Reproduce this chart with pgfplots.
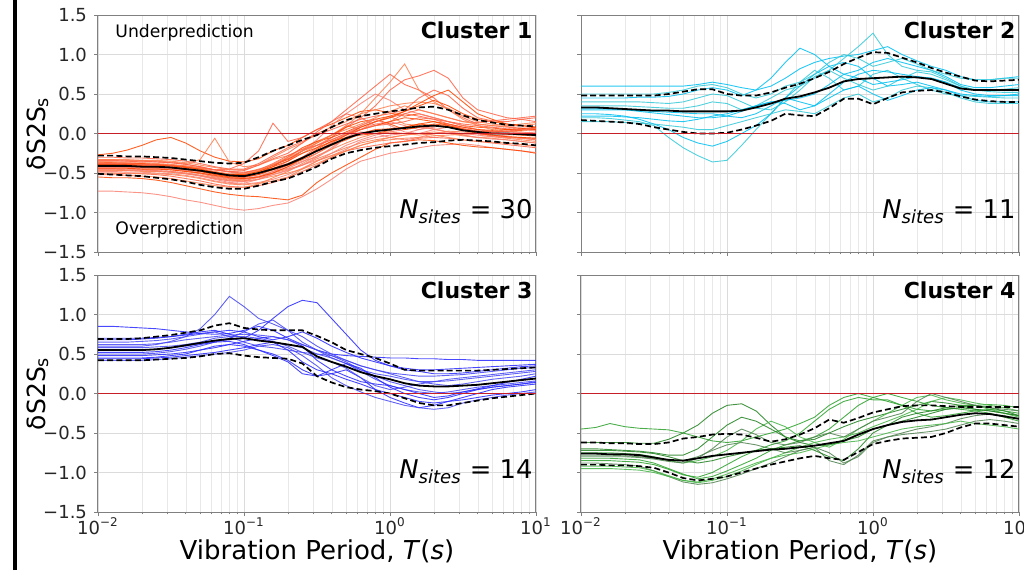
\documentclass[border=0pt]{standalone}
\usepackage{fontspec}
\setmainfont{DejaVu Sans}
\usepackage{pgfplots}
\usepackage{pgfplotstable}
\pgfplotsset{compat=1.18}

\definecolor{c1a}{RGB}{255,69,0}
\definecolor{c1b}{RGB}{255,99,71}
\definecolor{c1c}{RGB}{255,127,80}
\definecolor{c1d}{RGB}{250,128,114}
\definecolor{c2a}{RGB}{0,191,240}
\definecolor{c2b}{RGB}{50,200,215}
\definecolor{c3a}{RGB}{40,40,255}
\definecolor{c3b}{RGB}{70,70,245}
\definecolor{c4a}{RGB}{44,160,44}
\definecolor{c4b}{RGB}{34,130,34}
\definecolor{c4c}{RGB}{70,180,70}
\definecolor{c4d}{RGB}{80,130,80}
\definecolor{zeroRed}{RGB}{200,30,40}

% ---------------- Cluster 1 ----------------
\pgfplotstableread{
name 0.01 0.0126 0.0158 0.02 0.0251 0.0316 0.0398 0.0501 0.0631 0.0794 0.1 0.126 0.158 0.2 0.251 0.316 0.398 0.501 0.631 0.794 1 1.26 1.58 2 2.51 3.16 3.98 5.01 6.31 7.94 10
m -0.41 -0.41 -0.41 -0.42 -0.42 -0.43 -0.45 -0.47 -0.50 -0.53 -0.54 -0.50 -0.45 -0.39 -0.31 -0.22 -0.14 -0.06 0.00 0.03 0.05 0.07 0.09 0.10 0.08 0.04 0.02 0.00 0.00 -0.01 -0.02
lo -0.51 -0.52 -0.53 -0.54 -0.56 -0.58 -0.61 -0.65 -0.68 -0.70 -0.70 -0.66 -0.61 -0.57 -0.50 -0.42 -0.32 -0.25 -0.21 -0.18 -0.16 -0.14 -0.12 -0.11 -0.09 -0.08 -0.09 -0.10 -0.12 -0.13 -0.15
hi -0.28 -0.28 -0.29 -0.29 -0.30 -0.31 -0.33 -0.35 -0.37 -0.38 -0.37 -0.30 -0.22 -0.15 -0.08 -0.02 0.08 0.17 0.22 0.25 0.28 0.30 0.33 0.34 0.30 0.23 0.17 0.14 0.11 0.10 0.09
a1 -0.27 -0.25 -0.21 -0.15 -0.08 -0.05 -0.12 -0.22 -0.30 -0.35 -0.36 -0.32 -0.22 -0.15 -0.05 0.05 0.12 0.20 0.28 0.30 0.26 0.22 0.25 0.20 0.15 0.10 0.08 0.07 0.05 0.06 0.05
a2 -0.33 -0.33 -0.34 -0.34 -0.35 -0.36 -0.38 -0.33 -0.06 -0.36 -0.42 -0.40 -0.33 -0.28 -0.20 -0.10 -0.02 0.10 0.05 0.15 0.22 0.12 0.10 0.05 0.02 -0.02 -0.05 -0.04 -0.06 -0.08 -0.10
a3 -0.36 -0.37 -0.37 -0.38 -0.39 -0.40 -0.42 -0.44 -0.46 -0.45 -0.38 -0.22 0.13 -0.10 -0.05 0.05 0.15 0.30 0.45 0.60 0.75 0.62 0.55 0.45 0.30 0.20 0.12 0.10 0.08 0.07 0.06
a4 -0.73 -0.73 -0.74 -0.75 -0.77 -0.80 -0.84 -0.87 -0.91 -0.95 -0.97 -0.95 -0.91 -0.88 -0.80 -0.70 -0.58 -0.45 -0.35 -0.30 -0.25 -0.22 -0.18 -0.15 -0.14 -0.13 -0.15 -0.18 -0.20 -0.22 -0.24
a5 -0.55 -0.56 -0.56 -0.57 -0.59 -0.62 -0.66 -0.70 -0.74 -0.77 -0.79 -0.80 -0.82 -0.84 -0.78 -0.62 -0.50 -0.40 -0.30 -0.20 -0.12 -0.10 -0.08 -0.09 -0.12 -0.15 -0.17 -0.18 -0.20 -0.22 -0.25
a6 -0.38 -0.38 -0.39 -0.39 -0.40 -0.41 -0.43 -0.46 -0.50 -0.52 -0.50 -0.45 -0.40 -0.32 -0.25 -0.15 -0.05 0.10 0.25 0.45 0.65 0.88 0.55 0.40 0.30 0.18 0.10 0.05 0.03 0.02 0.00
a7 -0.45 -0.45 -0.46 -0.46 -0.47 -0.48 -0.50 -0.53 -0.57 -0.60 -0.60 -0.55 -0.48 -0.40 -0.30 -0.18 -0.05 0.08 0.20 0.35 0.55 0.68 0.73 0.80 0.70 0.45 0.30 0.25 0.20 0.18 0.15
a8 -0.40 -0.40 -0.40 -0.41 -0.41 -0.42 -0.44 -0.47 -0.51 -0.55 -0.56 -0.52 -0.45 -0.35 -0.22 -0.08 0.10 0.25 0.38 0.50 0.42 0.30 0.25 0.20 0.15 0.10 0.05 0.02 0.00 0.00 -0.02
a9 -0.42 -0.42 -0.42 -0.43 -0.43 -0.44 -0.46 -0.48 -0.51 -0.54 -0.55 -0.52 -0.46 -0.40 -0.33 -0.25 -0.15 -0.08 0.00 0.05 0.06 0.08 0.12 0.10 0.08 0.05 0.02 0.00 -0.01 -0.02 -0.03
a10 -0.33 -0.33 -0.33 -0.34 -0.34 -0.35 -0.37 -0.40 -0.43 -0.46 -0.46 -0.40 -0.30 -0.20 -0.12 0.00 0.08 0.15 0.25 0.30 0.35 0.38 0.40 0.38 0.32 0.22 0.15 0.12 0.10 0.12 0.14
a11 -0.50 -0.50 -0.51 -0.51 -0.52 -0.54 -0.57 -0.60 -0.64 -0.67 -0.68 -0.66 -0.62 -0.56 -0.48 -0.40 -0.30 -0.22 -0.18 -0.15 -0.12 -0.10 -0.06 -0.05 -0.06 -0.08 -0.10 -0.12 -0.14 -0.16 -0.18
a12 -0.46 -0.46 -0.47 -0.47 -0.48 -0.49 -0.51 -0.54 -0.58 -0.62 -0.63 -0.58 -0.50 -0.42 -0.35 -0.30 -0.20 -0.05 0.05 0.12 0.15 0.10 0.05 0.08 0.12 0.08 0.05 0.03 0.02 0.01 0.00
a13 -0.37 -0.37 -0.38 -0.38 -0.39 -0.40 -0.42 -0.45 -0.49 -0.52 -0.53 -0.50 -0.42 -0.30 -0.18 -0.10 -0.05 0.02 0.10 0.18 0.22 0.28 0.35 0.42 0.35 0.25 0.18 0.15 0.12 0.10 0.08
a14 -0.44 -0.44 -0.44 -0.45 -0.45 -0.46 -0.48 -0.51 -0.55 -0.58 -0.58 -0.55 -0.50 -0.45 -0.40 -0.32 -0.25 -0.18 -0.12 -0.08 -0.05 -0.02 0.00 0.02 0.00 -0.03 -0.05 -0.06 -0.08 -0.10 -0.12
a15 -0.30 -0.30 -0.31 -0.31 -0.32 -0.33 -0.35 -0.38 -0.42 -0.45 -0.45 -0.38 -0.28 -0.18 -0.10 -0.02 0.05 0.12 0.18 0.22 0.25 0.30 0.45 0.55 0.48 0.32 0.20 0.16 0.15 0.18 0.20
a16 -0.48 -0.48 -0.49 -0.49 -0.50 -0.51 -0.53 -0.56 -0.60 -0.63 -0.64 -0.62 -0.58 -0.52 -0.44 -0.35 -0.25 -0.15 -0.08 -0.02 0.02 0.05 0.08 0.06 0.02 -0.02 -0.05 -0.07 -0.08 -0.10 -0.12
a17 -0.39 -0.39 -0.39 -0.40 -0.40 -0.41 -0.43 -0.45 -0.49 -0.52 -0.52 -0.48 -0.40 -0.33 -0.22 -0.12 -0.02 0.08 0.15 0.18 0.12 0.05 0.08 0.12 0.10 0.06 0.03 0.02 0.03 0.04 0.05
a18 -0.52 -0.52 -0.53 -0.54 -0.55 -0.57 -0.60 -0.63 -0.66 -0.68 -0.68 -0.64 -0.56 -0.48 -0.38 -0.28 -0.20 -0.12 -0.05 0.00 0.02 0.00 -0.02 0.00 0.03 0.02 0.00 -0.02 -0.04 -0.05 -0.06
a19 -0.35 -0.35 -0.35 -0.36 -0.36 -0.37 -0.39 -0.42 -0.46 -0.49 -0.50 -0.46 -0.38 -0.28 -0.20 -0.15 -0.08 0.00 0.08 0.15 0.20 0.25 0.22 0.18 0.15 0.12 0.10 0.08 0.06 0.05 0.04
a20 -0.43 -0.43 -0.43 -0.44 -0.44 -0.45 -0.47 -0.50 -0.54 -0.57 -0.58 -0.56 -0.52 -0.47 -0.40 -0.30 -0.18 -0.05 0.02 0.00 -0.05 -0.08 -0.05 0.00 0.02 0.00 -0.02 -0.04 -0.05 -0.06 -0.07
a21 -0.40 -0.40 -0.41 -0.41 -0.42 -0.43 -0.45 -0.48 -0.52 -0.55 -0.55 -0.50 -0.44 -0.38 -0.30 -0.22 -0.12 -0.02 0.08 0.15 0.20 0.28 0.38 0.48 0.55 0.40 0.25 0.18 0.12 0.10 0.08
a22 -0.47 -0.47 -0.47 -0.48 -0.48 -0.49 -0.51 -0.53 -0.56 -0.59 -0.60 -0.58 -0.54 -0.50 -0.45 -0.38 -0.30 -0.22 -0.15 -0.10 -0.08 -0.06 -0.05 -0.03 -0.02 -0.01 0.00 -0.02 -0.04 -0.06 -0.08
a23 -0.34 -0.34 -0.35 -0.35 -0.36 -0.37 -0.39 -0.42 -0.46 -0.48 -0.47 -0.40 -0.32 -0.25 -0.12 0.02 0.15 0.25 0.20 0.10 0.15 0.25 0.30 0.25 0.20 0.15 0.14 0.16 0.18 0.20 0.22
a24 -0.45 -0.45 -0.46 -0.46 -0.47 -0.48 -0.50 -0.53 -0.57 -0.60 -0.61 -0.58 -0.52 -0.46 -0.40 -0.34 -0.28 -0.20 -0.10 -0.05 -0.02 0.00 0.05 0.10 0.08 0.04 0.00 -0.03 -0.05 -0.06 -0.08
a25 -0.41 -0.41 -0.41 -0.42 -0.42 -0.43 -0.45 -0.47 -0.50 -0.52 -0.52 -0.48 -0.42 -0.35 -0.25 -0.18 -0.10 -0.02 0.05 0.10 0.15 0.20 0.18 0.15 0.12 0.08 0.05 0.04 0.05 0.06 0.08
a26 -0.50 -0.50 -0.50 -0.51 -0.51 -0.52 -0.54 -0.57 -0.61 -0.64 -0.65 -0.63 -0.60 -0.55 -0.45 -0.35 -0.28 -0.22 -0.15 -0.10 -0.05 -0.02 0.00 -0.02 -0.05 -0.08 -0.10 -0.11 -0.12 -0.14 -0.16
a27 -0.38 -0.38 -0.38 -0.39 -0.39 -0.40 -0.41 -0.43 -0.46 -0.48 -0.49 -0.46 -0.40 -0.32 -0.22 -0.15 -0.08 0.00 0.05 0.10 0.12 0.15 0.20 0.18 0.12 0.06 0.03 0.02 0.03 0.05 0.07
a28 -0.42 -0.42 -0.43 -0.43 -0.44 -0.45 -0.47 -0.50 -0.54 -0.57 -0.57 -0.54 -0.48 -0.44 -0.36 -0.25 -0.12 0.00 0.10 0.18 0.10 0.02 0.00 0.05 0.08 0.05 0.00 -0.03 -0.02 0.00 0.02
a29 -0.44 -0.44 -0.44 -0.45 -0.45 -0.46 -0.48 -0.50 -0.53 -0.56 -0.57 -0.55 -0.50 -0.42 -0.32 -0.20 -0.10 -0.05 -0.02 0.00 0.04 0.08 0.12 0.15 0.10 0.05 0.00 -0.02 -0.04 -0.05 -0.06
a30 -0.36 -0.36 -0.37 -0.37 -0.38 -0.39 -0.41 -0.44 -0.48 -0.51 -0.51 -0.47 -0.39 -0.30 -0.22 -0.12 -0.02 0.05 0.12 0.20 0.28 0.35 0.30 0.25 0.20 0.15 0.12 0.10 0.09 0.10 0.12
}\rawA
\pgfplotstabletranspose[colnames from=name,input colnames to=T]{\tabA}{\rawA}

% ---------------- Cluster 2 ----------------
\pgfplotstableread{
name 0.01 0.0126 0.0158 0.02 0.0251 0.0316 0.0398 0.0501 0.0631 0.0794 0.1 0.126 0.158 0.2 0.251 0.316 0.398 0.501 0.631 0.794 1 1.26 1.58 2 2.51 3.16 3.98 5.01 6.31 7.94 10
m 0.33 0.33 0.32 0.31 0.30 0.29 0.29 0.28 0.28 0.28 0.28 0.29 0.33 0.38 0.44 0.47 0.52 0.58 0.66 0.69 0.70 0.71 0.72 0.71 0.69 0.63 0.57 0.55 0.55 0.55 0.55
lo 0.17 0.16 0.15 0.14 0.12 0.08 0.05 0.02 0.00 0.00 0.01 0.05 0.10 0.16 0.25 0.23 0.22 0.32 0.44 0.44 0.37 0.45 0.52 0.54 0.55 0.52 0.47 0.43 0.41 0.40 0.40
hi 0.48 0.48 0.48 0.48 0.48 0.48 0.50 0.53 0.56 0.56 0.50 0.48 0.48 0.52 0.58 0.63 0.70 0.78 0.88 0.96 1.03 1.02 0.96 0.90 0.83 0.77 0.72 0.67 0.66 0.67 0.68
a1 0.60 0.60 0.60 0.60 0.60 0.60 0.60 0.60 0.62 0.65 0.62 0.58 0.55 0.60 0.70 0.82 0.90 0.95 0.98 1.00 1.05 1.10 1.00 0.92 0.85 0.80 0.72 0.68 0.68 0.70 0.72
a2 0.20 0.20 0.19 0.17 0.15 0.10 -0.05 -0.18 -0.28 -0.36 -0.34 -0.15 0.05 0.25 0.45 0.65 0.80 0.70 0.55 0.60 0.75 0.80 0.70 0.62 0.55 0.50 0.48 0.47 0.46 0.45 0.45
a3 0.25 0.25 0.24 0.22 0.18 0.12 0.05 -0.05 -0.12 -0.16 -0.10 0.00 0.10 0.25 0.45 0.60 0.75 0.85 0.90 0.85 0.70 0.60 0.62 0.65 0.60 0.55 0.50 0.48 0.47 0.48 0.50
a4 0.35 0.35 0.35 0.35 0.34 0.33 0.32 0.32 0.35 0.40 0.38 0.30 0.35 0.45 0.55 0.60 0.70 0.80 0.95 1.10 1.27 1.00 0.85 0.80 0.78 0.70 0.60 0.55 0.55 0.56 0.58
a5 0.45 0.45 0.45 0.45 0.46 0.46 0.47 0.50 0.55 0.58 0.55 0.48 0.55 0.70 0.90 1.08 1.00 0.85 0.75 0.80 0.90 0.95 0.90 0.85 0.80 0.72 0.62 0.58 0.58 0.60 0.62
a6 0.15 0.15 0.15 0.14 0.13 0.12 0.10 0.08 0.05 0.05 0.10 0.15 0.20 0.25 0.30 0.28 0.25 0.35 0.45 0.50 0.40 0.45 0.55 0.60 0.58 0.52 0.45 0.40 0.38 0.38 0.38
a7 0.30 0.30 0.30 0.30 0.29 0.28 0.27 0.26 0.25 0.25 0.22 0.20 0.25 0.35 0.45 0.40 0.35 0.50 0.65 0.75 0.80 0.78 0.75 0.72 0.70 0.65 0.58 0.55 0.55 0.55 0.55
a8 0.40 0.40 0.40 0.40 0.40 0.39 0.38 0.40 0.45 0.50 0.48 0.40 0.32 0.30 0.40 0.55 0.72 0.80 0.70 0.62 0.55 0.60 0.70 0.78 0.75 0.68 0.60 0.55 0.53 0.52 0.52
a9 0.22 0.22 0.22 0.21 0.20 0.18 0.16 0.15 0.18 0.22 0.25 0.30 0.35 0.40 0.38 0.30 0.35 0.45 0.55 0.60 0.50 0.42 0.48 0.55 0.58 0.55 0.48 0.42 0.40 0.40 0.40
a10 0.50 0.50 0.50 0.50 0.50 0.50 0.52 0.55 0.60 0.62 0.58 0.50 0.45 0.50 0.60 0.65 0.75 0.90 1.00 0.95 0.85 0.90 0.95 0.88 0.80 0.75 0.70 0.68 0.68 0.70 0.70
a11 0.32 0.32 0.31 0.30 0.28 0.26 0.24 0.22 0.20 0.20 0.22 0.28 0.35 0.40 0.42 0.45 0.50 0.62 0.75 0.70 0.62 0.65 0.68 0.72 0.70 0.65 0.55 0.50 0.48 0.48 0.48
}\rawB
\pgfplotstabletranspose[colnames from=name,input colnames to=T]{\tabB}{\rawB}

% ---------------- Cluster 3 ----------------
\pgfplotstableread{
name 0.01 0.0126 0.0158 0.02 0.0251 0.0316 0.0398 0.0501 0.0631 0.0794 0.1 0.126 0.158 0.2 0.251 0.316 0.398 0.501 0.631 0.794 1 1.26 1.58 2 2.51 3.16 3.98 5.01 6.31 7.94 10
m 0.55 0.55 0.55 0.55 0.56 0.58 0.61 0.64 0.67 0.69 0.70 0.67 0.65 0.62 0.59 0.47 0.40 0.34 0.27 0.22 0.18 0.13 0.10 0.09 0.09 0.10 0.11 0.13 0.15 0.17 0.19
lo 0.42 0.42 0.42 0.42 0.43 0.44 0.45 0.47 0.50 0.51 0.48 0.46 0.45 0.44 0.38 0.22 0.14 0.08 0.05 0.03 0.00 -0.06 -0.12 -0.15 -0.15 -0.12 -0.09 -0.06 -0.04 -0.02 0.00
hi 0.69 0.69 0.69 0.70 0.72 0.74 0.77 0.80 0.86 0.89 0.83 0.81 0.80 0.80 0.80 0.73 0.65 0.55 0.50 0.45 0.38 0.30 0.29 0.29 0.29 0.29 0.29 0.30 0.31 0.32 0.33
a1 0.85 0.85 0.84 0.83 0.82 0.80 0.78 0.76 0.75 0.76 0.80 0.85 0.80 0.70 0.62 0.55 0.50 0.48 0.47 0.46 0.45 0.45 0.44 0.44 0.43 0.43 0.42 0.42 0.42 0.42 0.42
a2 0.60 0.60 0.60 0.60 0.62 0.66 0.72 0.82 1.00 1.23 1.10 0.95 0.88 0.80 0.72 0.60 0.50 0.42 0.35 0.30 0.25 0.20 0.15 0.12 0.10 0.12 0.15 0.18 0.20 0.22 0.25
a3 0.68 0.68 0.68 0.69 0.70 0.72 0.75 0.78 0.80 0.75 0.70 0.80 0.95 1.10 1.18 1.15 0.95 0.75 0.55 0.42 0.35 0.30 0.28 0.25 0.25 0.26 0.28 0.30 0.32 0.34 0.35
a4 0.50 0.50 0.50 0.50 0.51 0.53 0.56 0.60 0.65 0.70 0.78 0.88 0.93 0.80 0.65 0.55 0.45 0.38 0.30 0.22 0.15 0.10 0.05 0.02 0.00 0.02 0.05 0.08 0.10 0.12 0.15
a5 0.45 0.45 0.45 0.45 0.46 0.48 0.50 0.55 0.60 0.62 0.60 0.55 0.50 0.42 0.30 0.22 0.25 0.30 0.20 0.05 -0.05 -0.12 -0.18 -0.15 -0.10 -0.05 0.00 0.05 0.08 0.10 0.12
a6 0.55 0.55 0.55 0.55 0.56 0.58 0.60 0.63 0.66 0.68 0.70 0.68 0.65 0.62 0.58 0.50 0.45 0.38 0.28 0.18 0.10 0.05 0.02 0.00 0.02 0.05 0.08 0.10 0.12 0.14 0.16
a7 0.70 0.70 0.70 0.70 0.71 0.72 0.74 0.76 0.78 0.80 0.78 0.72 0.68 0.72 0.78 0.70 0.60 0.52 0.45 0.40 0.35 0.32 0.30 0.30 0.31 0.32 0.33 0.34 0.35 0.36 0.37
a8 0.42 0.42 0.42 0.42 0.43 0.44 0.46 0.48 0.50 0.52 0.55 0.60 0.62 0.58 0.48 0.35 0.20 0.10 0.02 -0.05 -0.10 -0.15 -0.18 -0.20 -0.18 -0.12 -0.08 -0.05 -0.02 0.00 0.02
a9 0.48 0.48 0.48 0.48 0.49 0.50 0.52 0.55 0.58 0.62 0.66 0.70 0.72 0.68 0.60 0.42 0.30 0.22 0.15 0.12 0.10 0.05 0.00 -0.05 -0.03 0.02 0.06 0.10 0.14 0.18 0.22
a10 0.65 0.65 0.65 0.66 0.67 0.69 0.72 0.75 0.78 0.72 0.65 0.60 0.58 0.55 0.52 0.50 0.48 0.40 0.30 0.25 0.22 0.18 0.15 0.15 0.16 0.18 0.20 0.22 0.24 0.26 0.28
a11 0.52 0.52 0.52 0.52 0.53 0.55 0.58 0.62 0.65 0.66 0.62 0.55 0.48 0.40 0.25 0.22 0.30 0.38 0.32 0.20 0.08 0.00 -0.05 -0.08 -0.05 0.00 0.05 0.08 0.10 0.12 0.14
a12 0.58 0.58 0.58 0.58 0.59 0.60 0.62 0.65 0.70 0.72 0.72 0.70 0.66 0.60 0.52 0.45 0.40 0.32 0.20 0.10 0.05 0.08 0.12 0.15 0.18 0.20 0.22 0.24 0.26 0.28 0.30
a13 0.44 0.44 0.44 0.44 0.45 0.46 0.48 0.50 0.52 0.55 0.58 0.62 0.65 0.55 0.40 0.30 0.25 0.18 0.12 0.05 0.00 -0.05 -0.10 -0.12 -0.10 -0.08 -0.05 -0.02 0.00 0.02 0.05
a14 0.62 0.62 0.62 0.62 0.63 0.65 0.68 0.70 0.72 0.74 0.75 0.74 0.72 0.68 0.62 0.55 0.48 0.42 0.35 0.30 0.26 0.24 0.22 0.22 0.23 0.24 0.26 0.28 0.30 0.32 0.33
}\rawC
\pgfplotstabletranspose[colnames from=name,input colnames to=T]{\tabC}{\rawC}

% ---------------- Cluster 4 ----------------
\pgfplotstableread{
name 0.01 0.0126 0.0158 0.02 0.0251 0.0316 0.0398 0.0501 0.0631 0.0794 0.1 0.126 0.158 0.2 0.251 0.316 0.398 0.501 0.631 0.794 1 1.26 1.58 2 2.51 3.16 3.98 5.01 6.31 7.94 10
m -0.76 -0.76 -0.77 -0.77 -0.78 -0.81 -0.84 -0.85 -0.82 -0.79 -0.77 -0.75 -0.73 -0.71 -0.70 -0.68 -0.66 -0.63 -0.60 -0.52 -0.45 -0.40 -0.36 -0.34 -0.33 -0.30 -0.27 -0.25 -0.26 -0.29 -0.32
lo -0.90 -0.90 -0.91 -0.91 -0.92 -0.94 -1.00 -1.07 -1.10 -1.08 -1.05 -1.00 -0.95 -0.90 -0.86 -0.82 -0.79 -0.82 -0.84 -0.74 -0.64 -0.60 -0.57 -0.56 -0.55 -0.50 -0.43 -0.38 -0.38 -0.40 -0.42
hi -0.62 -0.62 -0.63 -0.63 -0.64 -0.64 -0.62 -0.57 -0.55 -0.52 -0.51 -0.52 -0.56 -0.61 -0.58 -0.52 -0.44 -0.33 -0.37 -0.31 -0.24 -0.20 -0.16 -0.15 -0.15 -0.16 -0.17 -0.17 -0.17 -0.17 -0.17
a1 -0.45 -0.43 -0.38 -0.42 -0.44 -0.45 -0.46 -0.50 -0.55 -0.60 -0.62 -0.60 -0.55 -0.50 -0.45 -0.38 -0.30 -0.15 -0.05 0.00 -0.05 -0.10 -0.15 -0.20 -0.22 -0.20 -0.18 -0.15 -0.14 -0.15 -0.18
a2 -0.62 -0.62 -0.62 -0.62 -0.63 -0.63 -0.58 -0.50 -0.40 -0.25 -0.15 -0.13 -0.22 -0.40 -0.55 -0.60 -0.58 -0.50 -0.42 -0.35 -0.30 -0.25 -0.20 -0.15 -0.10 -0.12 -0.15 -0.20 -0.22 -0.25 -0.28
a3 -0.75 -0.75 -0.75 -0.76 -0.77 -0.80 -0.85 -0.88 -0.85 -0.80 -0.72 -0.60 -0.45 -0.35 -0.42 -0.55 -0.62 -0.68 -0.58 -0.45 -0.35 -0.25 -0.15 -0.05 -0.02 -0.08 -0.12 -0.15 -0.20 -0.25 -0.30
a4 -0.88 -0.88 -0.89 -0.90 -0.92 -0.98 -1.05 -1.12 -1.15 -1.13 -1.08 -1.02 -0.95 -0.88 -0.80 -0.72 -0.68 -0.75 -0.88 -0.80 -0.62 -0.55 -0.52 -0.50 -0.48 -0.45 -0.40 -0.35 -0.33 -0.35 -0.38
a5 -0.82 -0.82 -0.82 -0.83 -0.84 -0.88 -0.95 -1.02 -1.08 -1.05 -0.98 -0.90 -0.82 -0.72 -0.65 -0.60 -0.55 -0.45 -0.30 -0.15 -0.05 0.00 -0.05 -0.10 -0.15 -0.18 -0.20 -0.22 -0.25 -0.30 -0.35
a6 -0.70 -0.70 -0.71 -0.72 -0.73 -0.75 -0.78 -0.78 -0.70 -0.55 -0.40 -0.30 -0.35 -0.45 -0.55 -0.62 -0.66 -0.65 -0.60 -0.55 -0.45 -0.40 -0.35 -0.30 -0.25 -0.20 -0.18 -0.20 -0.22 -0.25 -0.28
a7 -0.92 -0.92 -0.92 -0.93 -0.94 -0.98 -1.04 -1.10 -1.12 -1.08 -1.02 -0.95 -0.88 -0.82 -0.75 -0.68 -0.62 -0.58 -0.55 -0.50 -0.42 -0.35 -0.28 -0.20 -0.10 -0.05 -0.08 -0.12 -0.15 -0.18 -0.22
a8 -0.78 -0.78 -0.78 -0.79 -0.80 -0.82 -0.85 -0.85 -0.80 -0.72 -0.65 -0.62 -0.65 -0.70 -0.75 -0.72 -0.68 -0.85 -0.90 -0.78 -0.60 -0.55 -0.50 -0.45 -0.42 -0.38 -0.32 -0.28 -0.26 -0.28 -0.32
a9 -0.85 -0.85 -0.85 -0.86 -0.87 -0.90 -0.96 -1.03 -1.06 -1.00 -0.90 -0.80 -0.72 -0.65 -0.60 -0.50 -0.35 -0.20 -0.10 -0.05 -0.08 -0.08 -0.15 -0.25 -0.30 -0.28 -0.25 -0.22 -0.20 -0.22 -0.25
a10 -0.72 -0.72 -0.72 -0.73 -0.74 -0.76 -0.80 -0.85 -0.88 -0.85 -0.80 -0.76 -0.72 -0.70 -0.68 -0.66 -0.72 -0.80 -0.85 -0.70 -0.50 -0.40 -0.30 -0.25 -0.22 -0.18 -0.15 -0.15 -0.18 -0.22 -0.28
a11 -0.95 -0.95 -0.95 -0.96 -0.97 -1.00 -1.05 -1.10 -1.13 -1.10 -1.05 -0.98 -0.90 -0.82 -0.78 -0.75 -0.70 -0.65 -0.62 -0.60 -0.55 -0.50 -0.45 -0.42 -0.40 -0.38 -0.35 -0.38 -0.40 -0.42 -0.45
a12 -0.80 -0.80 -0.80 -0.80 -0.81 -0.83 -0.86 -0.88 -0.82 -0.70 -0.55 -0.45 -0.52 -0.62 -0.65 -0.62 -0.55 -0.50 -0.55 -0.45 -0.35 -0.30 -0.25 -0.10 0.00 -0.05 -0.10 -0.15 -0.18 -0.20 -0.22
}\rawD
\pgfplotstabletranspose[colnames from=name,input colnames to=T]{\tabD}{\rawD}

\pgfplotsset{
  rsGeom/.style={
    scale only axis, width=219pt, height=118.5pt, anchor=south west,
    xmin=0.01, xmax=10, ymin=-1.5, ymax=1.5,
  },
  rsPanel/.style={
    rsGeom,
    xtick={0.01,0.1,1,10},
    minor xtick={0.02,0.03,0.04,0.05,0.06,0.07,0.08,0.09,0.2,0.3,0.4,0.5,0.6,0.7,0.8,0.9,2,3,4,5,6,7,8,9},
    ytick={-1.5,-1,-0.5,0.5,1,1.5},
    extra y ticks={0},
    extra y tick style={grid=none},
    xmajorgrids, xminorgrids, ymajorgrids,
    major grid style={black!14, line width=0.4pt},
    minor grid style={black!9, line width=0.35pt},
    axis line style={black!50, line width=0.5pt},
    tick style={black!50, line width=0.4pt},
    tick align=outside, major tick length=2pt, minor tick length=1.2pt,
    tick pos=left,
    tick label style={font=\fontsize{9}{10}\selectfont, text=black!85},
    xticklabel style={yshift=2.5pt},
    xlabel style={font=\fontsize{13}{15}\selectfont, at={(axis description cs:0.5,-0.165)}, anchor=center},
    ylabel style={font=\fontsize{12.5}{14}\selectfont, at={(axis description cs:-0.137,0.5)}, anchor=center},
  },
  rsLeft/.style={yticklabels={−1.5,−1.0,−0.5,0.5,1.0,1.5}, extra y tick labels={0.0}, ylabel={δS2S\textsubscript{s}}},
  rsRight/.style={yticklabels={,,,,,}, extra y tick labels={}},
  rsTop/.style={xticklabels={,,,}},
  rsBot/.style={xticklabels={10\textsuperscript{−2},10\textsuperscript{−1},10\textsuperscript{0},10\textsuperscript{1}}, xlabel={Vibration Period, \textit{T}(\textit{s})}},
  rsInd/.style={line width=0.45pt, no markers, opacity=0.85},
  rsOverlay/.style={rsGeom, hide axis, clip=false, cycle list={{zeroRed, line width=0.7pt}}},
}

\newcommand{\clusterlabel}[1]{\node[anchor=base east, inner sep=0pt, font=\bfseries\fontsize{11}{12}\selectfont] at (rel axis cs:0.993,0.899) {Cluster #1};}
\newcommand{\nsites}[1]{\node[anchor=base east, inner sep=0pt, font=\fontsize{12.9}{14}\selectfont] at (rel axis cs:0.993,0.143) {\textit{N}\textsubscript{\textit{sites}} = #1};}
\newcommand{\summary}[1]{%
  \addplot[black, line width=0.9pt, no markers] table[x=T,y=m]{#1};
  \addplot[black, line width=0.85pt, no markers, dash pattern=on 3pt off 1.6pt] table[x=T,y=lo]{#1};
  \addplot[black, line width=0.85pt, no markers, dash pattern=on 3pt off 1.6pt] table[x=T,y=hi]{#1};
}
\newcommand{\zerooverlay}[1]{%
  \begin{semilogxaxis}[rsOverlay, at={#1}]
  \addplot+[no markers] coordinates {(0.01,0) (10,0)};
  \end{semilogxaxis}
}

\begin{document}
\begin{tikzpicture}
\begin{scope}
\clip (0,0) rectangle (512pt,285pt);

% Cluster 1
\begin{semilogxaxis}[rsPanel, rsLeft, rsTop, at={(49pt,159pt)},
  cycle list={{c1a},{c1c},{c1b},{c1d}}]
\pgfplotsinvokeforeach{1,...,30}{\addplot+[rsInd] table[x=T,y=a#1]{\tabA};}
\summary{\tabA}
\clusterlabel{1}
\nsites{30}
\node[anchor=base west, inner sep=0pt, font=\fontsize{8.6}{10}\selectfont] at (rel axis cs:0.039,0.907) {Underprediction};
\node[anchor=base west, inner sep=0pt, font=\fontsize{8.6}{10}\selectfont] at (rel axis cs:0.039,0.072) {Overprediction};
\end{semilogxaxis}
\zerooverlay{(49pt,159pt)}

% Cluster 2
\begin{semilogxaxis}[rsPanel, rsRight, rsTop, at={(290.5pt,159pt)},
  cycle list={{c2a},{c2b}}]
\pgfplotsinvokeforeach{1,...,11}{\addplot+[rsInd] table[x=T,y=a#1]{\tabB};}
\summary{\tabB}
\clusterlabel{2}
\nsites{11}
\end{semilogxaxis}
\zerooverlay{(290.5pt,159pt)}

% Cluster 3
\begin{semilogxaxis}[rsPanel, rsLeft, rsBot, at={(49pt,29pt)},
  cycle list={{c3a},{c3b}}]
\pgfplotsinvokeforeach{1,...,14}{\addplot+[rsInd] table[x=T,y=a#1]{\tabC};}
\summary{\tabC}
\clusterlabel{3}
\nsites{14}
\end{semilogxaxis}
\zerooverlay{(49pt,29pt)}

% Cluster 4
\begin{semilogxaxis}[rsPanel, rsRight, rsBot, at={(290.5pt,29pt)},
  cycle list={{c4a},{c4b},{c4c},{c4d}}]
\pgfplotsinvokeforeach{1,...,12}{\addplot+[rsInd] table[x=T,y=a#1]{\tabD};}
\summary{\tabD}
\clusterlabel{4}
\nsites{12}
\end{semilogxaxis}
\zerooverlay{(290.5pt,29pt)}

\draw[black, line width=1.6pt] (7.5pt,0) -- (7.5pt,285pt);
\end{scope}
\pgfresetboundingbox
\useasboundingbox (0,0) rectangle (512pt,285pt);
\end{tikzpicture}
\end{document}
